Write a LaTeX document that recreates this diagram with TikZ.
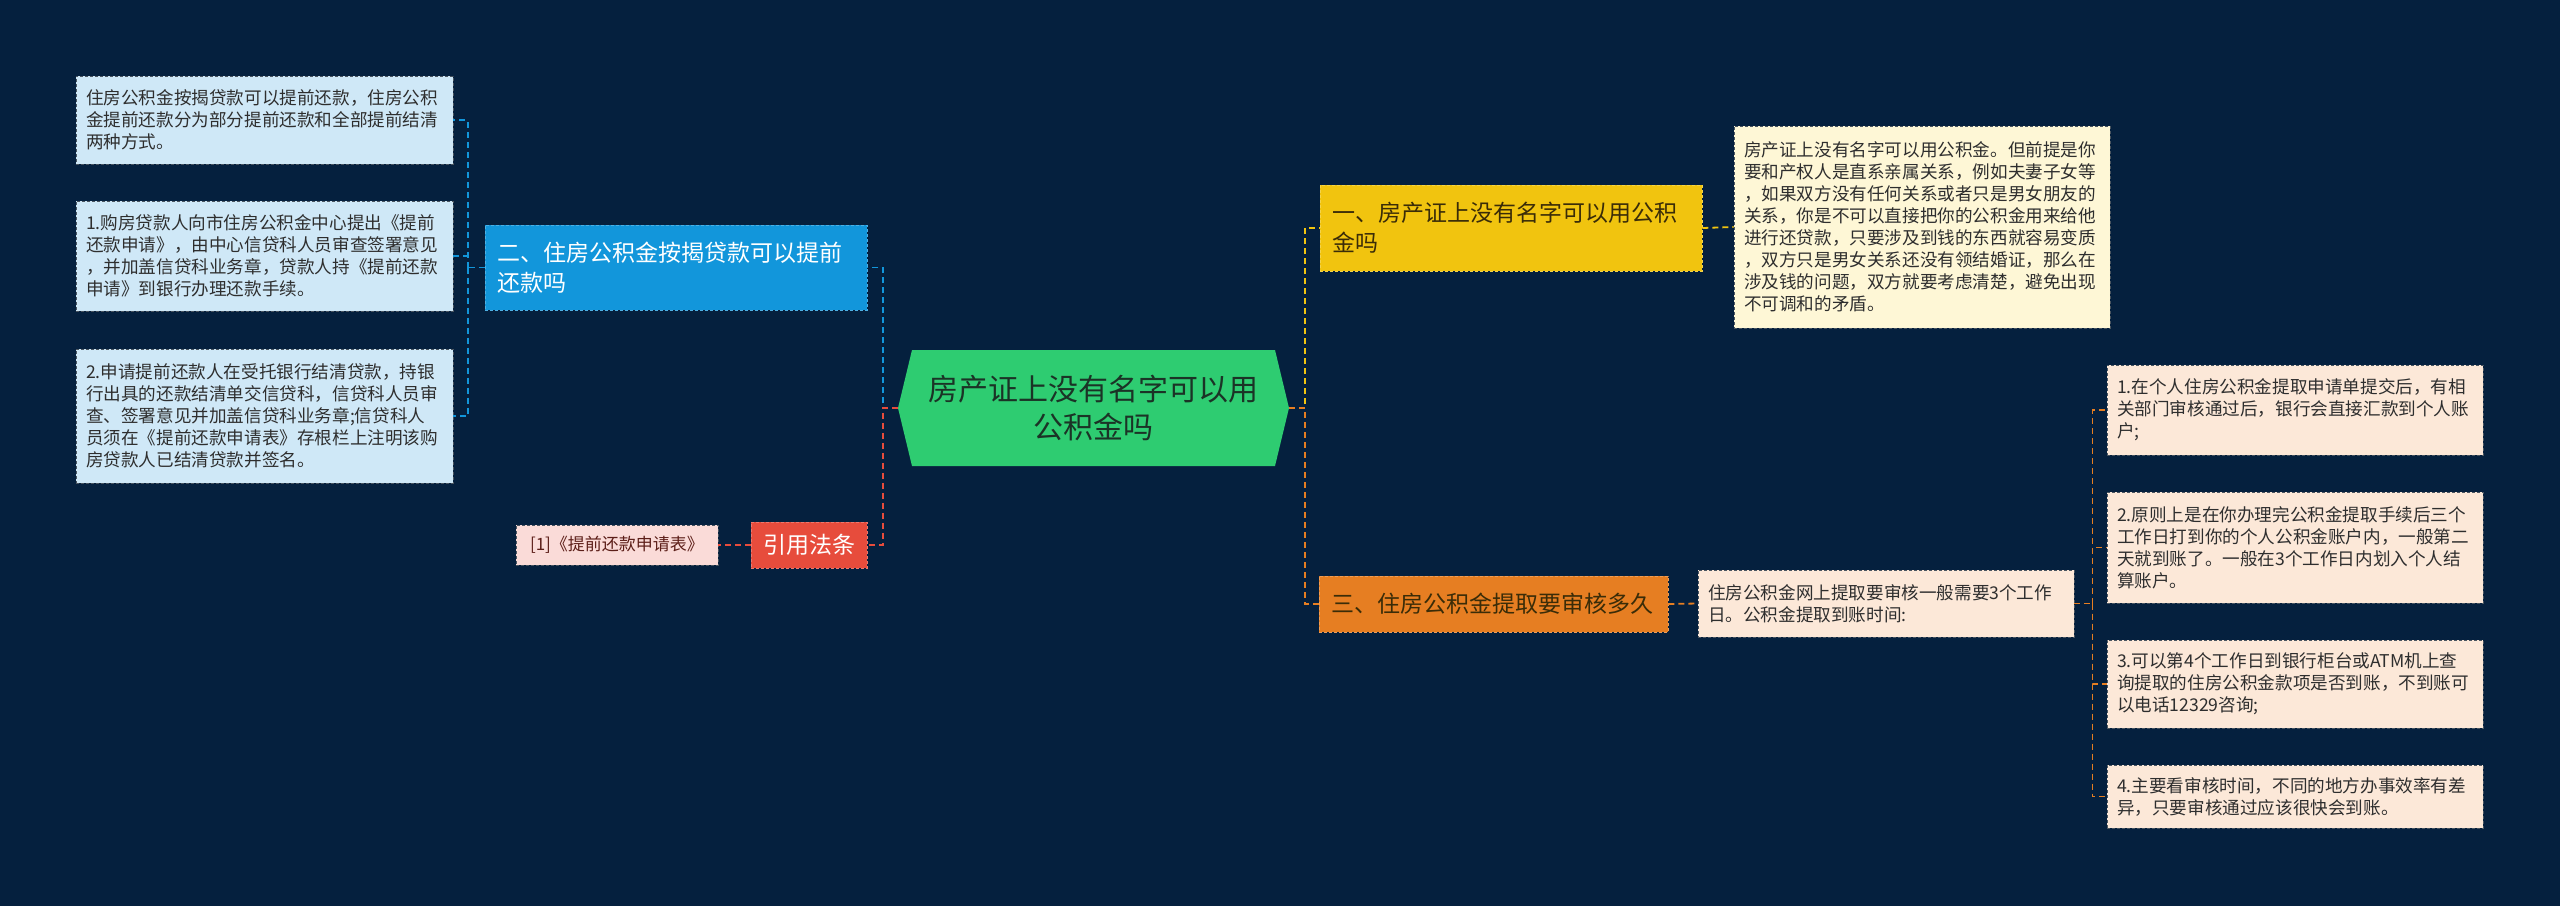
\documentclass[tikz,border=0pt]{standalone}
\usepackage{fontspec}
\newfontfamily\cjk{Noto Sans CJK SC}
\usetikzlibrary{positioning}
\definecolor{fondo}{HTML}{05203E}
\definecolor{verdeRaiz}{HTML}{2ECC71}
\definecolor{textoRaiz}{HTML}{1B3326}
\definecolor{azulRama}{HTML}{1296DB}
\definecolor{azulHoja}{HTML}{CFE8F7}
\definecolor{amarilloRama}{HTML}{F1C40F}
\definecolor{cremaHoja}{HTML}{FEF7D6}
\definecolor{naranjaRama}{HTML}{E67E22}
\definecolor{melocotonHoja}{HTML}{FCE8D8}
\definecolor{rojoRama}{HTML}{E74C3C}
\definecolor{rosaHoja}{HTML}{FADBD8}
\definecolor{bordeHoja}{HTML}{4A5560}
\definecolor{textoHoja}{HTML}{2E2E2E}
\definecolor{textoOscuro}{HTML}{3A2C08}

\tikzset{
  rama/.style={draw=#1!75!white, fill=#1, dashed, dash pattern=on 3pt off 2pt,
    line width=0.8pt, align=left, inner sep=0pt, inner xsep=12pt,
    font=\cjk\fontsize{23}{30}\selectfont},
  hoja/.style={draw=bordeHoja, fill=#1, dashed, dash pattern=on 3pt off 2pt,
    line width=0.8pt, align=left, inner sep=0pt, inner xsep=10pt,
    text=textoHoja, font=\cjk\fontsize{17.6}{22}\selectfont},
  enlace/.style={draw=#1, dashed, dash pattern=on 6pt off 4pt, line width=1.8pt}
}

\begin{document}
\begin{tikzpicture}[x=1pt,y=-1pt]
  \useasboundingbox (0,0) rectangle (2560,906);
  \fill[fondo] (0,0) rectangle (2560,906);

  % nodo central
  \fill[verdeRaiz] (898,408) -- (912,350) -- (1275,350) -- (1289,408)
    -- (1275,466) -- (912,466) -- cycle;
  \node[minimum width=391pt, minimum height=116pt, align=center, text=textoRaiz,
    font=\cjk\fontsize{30}{38}\selectfont] (raiz) at (1093.5,408)
    {房产证上没有名字可以用\\公积金吗};

  % ramas
  \node[rama=azulRama, text=white, text width=358pt, minimum height=85pt] (r2) at (676,267.5)
    {二、住房公积金按揭贷款可以提前\\还款吗};
  \node[rama=rojoRama, text=white, align=center, inner xsep=0pt, minimum width=116pt,
    minimum height=46pt] (ley) at (809,545) {引用法条};
  \node[rama=amarilloRama, text=textoOscuro, text width=358pt, minimum height=86pt] (r1) at (1511,228)
    {一、房产证上没有名字可以用公积\\金吗};
  \node[rama=naranjaRama, text=textoOscuro, text width=325pt, minimum height=56pt] (r3) at (1493.5,604)
    {三、住房公积金提取要审核多久};

  % hojas izquierda
  \node[hoja=azulHoja, text width=357pt, minimum height=88pt] (h21) at (264.5,120)
    {住房公积金按揭贷款可以提前还款，住房公积\\金提前还款分为部分提前还款和全部提前结清\\两种方式。};
  \node[hoja=azulHoja, text width=357pt, minimum height=110pt] (h22) at (264.5,256)
    {1.购房贷款人向市住房公积金中心提出《提前\\还款申请》，由中心信贷科人员审查签署意见\\，并加盖信贷科业务章，贷款人持《提前还款\\申请》到银行办理还款手续。};
  \node[hoja=azulHoja, text width=357pt, minimum height=134pt] (h23) at (264.5,416)
    {2.申请提前还款人在受托银行结清贷款，持银\\行出具的还款结清单交信贷科，信贷科人员审\\查、签署意见并加盖信贷科业务章;信贷科人\\员须在《提前还款申请表》存根栏上注明该购\\房贷款人已结清贷款并签名。};
  \node[hoja=rosaHoja, text=rojoRama!40!black, align=center, inner xsep=0pt,
    font=\cjk\fontsize{17}{20}\selectfont, minimum width=202pt, minimum height=40pt] (cita) at (617,545)
    {[1]《提前还款申请表》};

  % hojas derecha
  \node[hoja=cremaHoja, text width=356pt, minimum height=202pt] (h11) at (1922,227)
    {房产证上没有名字可以用公积金。但前提是你\\要和产权人是直系亲属关系，例如夫妻子女等\\，如果双方没有任何关系或者只是男女朋友的\\关系，你是不可以直接把你的公积金用来给他\\进行还贷款，只要涉及到钱的东西就容易变质\\，双方只是男女关系还没有领结婚证，那么在\\涉及钱的问题，双方就要考虑清楚，避免出现\\不可调和的矛盾。};
  \node[hoja=melocotonHoja, text width=356pt, minimum height=67pt] (h31) at (1886,603.5)
    {住房公积金网上提取要审核一般需要3个工作\\日。公积金提取到账时间:};
  \node[hoja=melocotonHoja, text width=356pt, minimum height=90pt] (h32) at (2295,410)
    {1.在个人住房公积金提取申请单提交后，有相\\关部门审核通过后，银行会直接汇款到个人账\\户;};
  \node[hoja=melocotonHoja, text width=356pt, minimum height=111pt] (h33) at (2295,547.5)
    {2.原则上是在你办理完公积金提取手续后三个\\工作日打到你的个人公积金账户内，一般第二\\天就到账了。一般在3个工作日内划入个人结\\算账户。};
  \node[hoja=melocotonHoja, text width=356pt, minimum height=88pt] (h34) at (2295,684)
    {3.可以第4个工作日到银行柜台或ATM机上查\\询提取的住房公积金款项是否到账，不到账可\\以电话12329咨询;};
  \node[hoja=melocotonHoja, text width=356pt, minimum height=63pt] (h35) at (2295,796.5)
    {4.主要看审核时间，不同的地方办事效率有差\\异，只要审核通过应该很快会到账。};

  % enlaces
  \draw[enlace=azulRama] (raiz.west) -- ++(-15,0) |- (r2.east);
  \draw[enlace=rojoRama] (raiz.west) -- ++(-15,0) |- (ley.east);
  \draw[enlace=rojoRama] (ley.west) -- (cita.east);
  \draw[enlace=azulRama] (r2.west) -- ++(-17,0) coordinate (r2j);
  \draw[enlace=azulRama] (r2j) |- (h21.east);
  \draw[enlace=azulRama] (r2j) |- (h22.east);
  \draw[enlace=azulRama] (r2j) |- (h23.east);
  \draw[enlace=amarilloRama] (raiz.east) -- ++(16,0) |- (r1.west);
  \draw[enlace=naranjaRama] (raiz.east) -- ++(16,0) |- (r3.west);
  \draw[enlace=amarilloRama] (r1.east) -- (h11.west);
  \draw[enlace=naranjaRama] (r3.east) -- (h31.west);
  \draw[enlace=naranjaRama] (h31.east) -- ++(18,0) coordinate (h31j);
  \draw[enlace=naranjaRama] (h31j) |- (h32.west);
  \draw[enlace=naranjaRama] (h31j) |- (h33.west);
  \draw[enlace=naranjaRama] (h31j) |- (h34.west);
  \draw[enlace=naranjaRama] (h31j) |- (h35.west);
\end{tikzpicture}
\end{document}
